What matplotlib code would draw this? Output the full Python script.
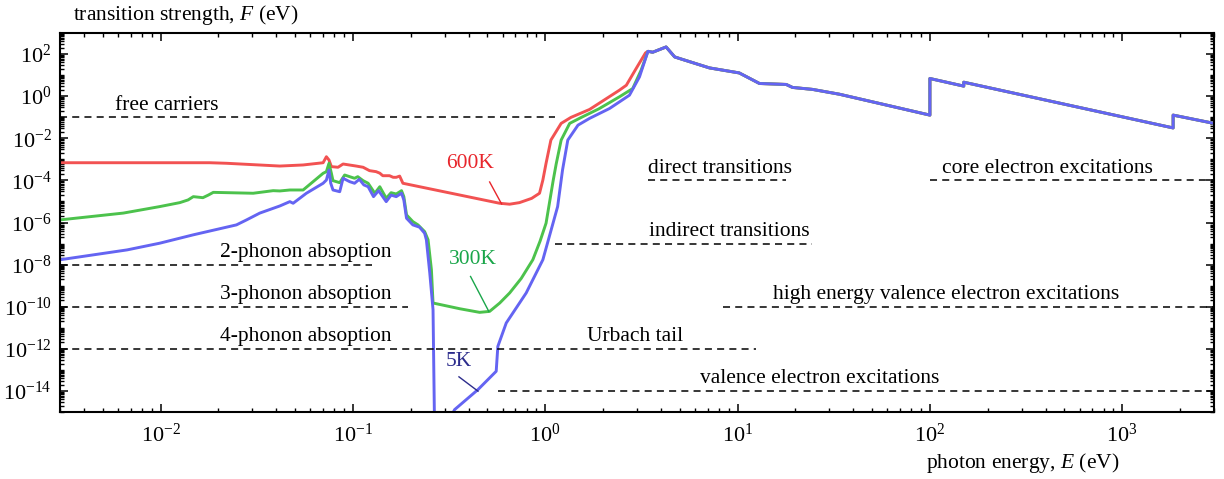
import numpy as np
import matplotlib
matplotlib.use("Agg")
import matplotlib.pyplot as plt
from matplotlib.ticker import FixedLocator, LogFormatterMathtext, NullFormatter

plt.rcParams['font.family'] = 'Liberation Serif'
plt.rcParams['mathtext.fontset'] = 'custom'
plt.rcParams['mathtext.rm'] = 'Liberation Serif'
plt.rcParams['mathtext.it'] = 'Liberation Serif:italic'

# photon energy (eV) / transition strength F (eV), read per temperature
red_E = [0.003, 0.018, 0.022, 0.0417, 0.0551, 0.070, 0.0728, 0.0751, 0.0773, 0.0837,
         0.0889, 0.104, 0.113, 0.122, 0.132, 0.138, 0.143, 0.155, 0.162, 0.168,
         0.175, 0.182, 0.579, 0.653, 0.735, 0.85, 0.934, 0.972, 1.01, 1.07, 1.21,
         1.36, 1.70, 2.43, 2.64, 2.97, 3.32]
red_F = [6.9e-4, 6.9e-4, 6.5e-4, 4.8e-4, 5.4e-4, 6.9e-4, 1.33e-3, 9.3e-4, 4.5e-4, 4.2e-4,
         6.0e-4, 4.8e-4, 4.2e-4, 2.9e-4, 2.6e-4, 2.2e-4, 1.67e-4, 1.67e-4, 1.4e-4, 1.4e-4,
         1.6e-4, 7.3e-5, 8.2e-6, 7.4e-6, 8.8e-6, 1.4e-5, 2.45e-5, 1.04e-4, 6.5e-4, 8.2e-3, 0.051,
         0.098, 0.234, 1.92, 3.3, 20.6, 113]

green_E = [0.003, 0.0064, 0.0099, 0.0126, 0.0139, 0.0148, 0.0166, 0.0177, 0.0188, 0.0303,
           0.0385, 0.0417, 0.047, 0.0551, 0.070, 0.0728, 0.0751, 0.0773, 0.0788, 0.0854,
           0.0906, 0.0962, 0.102, 0.106, 0.113, 0.120, 0.130, 0.138, 0.149, 0.158,
           0.168, 0.179, 0.184, 0.190, 0.205, 0.218, 0.236, 0.246, 0.256, 0.261,
           0.36, 0.456, 0.514, 0.58, 0.653, 0.75, 0.862, 0.94, 1.01, 1.10, 1.14, 1.21, 1.34, 1.54,
           1.90, 2.43, 2.85, 3.15]
green_F = [1.33e-6, 2.8e-6, 5.7e-6, 8.8e-6, 1.18e-5, 1.69e-5, 1.51e-5, 2.0e-5, 2.7e-5, 2.45e-5,
           3.25e-5, 3.15e-5, 3.5e-5, 3.5e-5, 2.17e-4, 2.6e-4, 6.5e-4, 2.17e-4, 9.7e-5, 7.8e-5,
           1.8e-4, 1.5e-4, 1.26e-4, 1.5e-4, 9.7e-5, 7.3e-5, 2.45e-5, 5.0e-5, 1.42e-5, 2.6e-5,
           2.26e-5, 3.25e-5, 1.69e-5, 2.3e-6, 1.1e-6, 7.7e-7, 3.7e-7, 1.5e-7, 5.7e-9, 1.5e-10,
           8.0e-11, 5.4e-11, 6.0e-11, 1.5e-10, 4.5e-10, 2.2e-9, 1.7e-8, 1.3e-7, 9.3e-7, 1.0e-4, 6.0e-4, 8.2e-3, 0.051, 0.098,
           0.25, 0.93, 2.3, 17]

blue_E = [0.003, 0.0067, 0.0099, 0.0148, 0.0248, 0.028, 0.0328, 0.0417, 0.047, 0.0489,
          0.0573, 0.070, 0.0728, 0.0751, 0.0767, 0.0788, 0.0854, 0.0889, 0.0962, 0.102,
          0.108, 0.114, 0.120, 0.128, 0.136, 0.149, 0.158, 0.168, 0.179, 0.184,
          0.190, 0.205, 0.222, 0.236, 0.241, 0.251, 0.261, 0.266, 0.31, 0.338,
          0.447, 0.556, 0.567, 0.627, 0.796, 0.972, 1.16, 1.23, 1.31, 1.48,
          1.70, 2.16, 2.74, 3.09]
blue_F = [1.7e-8, 5.0e-8, 1.04e-7, 2.6e-7, 7.7e-7, 1.33e-6, 2.8e-6, 6.1e-6, 9.8e-6, 8.2e-6,
          2.45e-5, 7.3e-5, 1.04e-4, 3.1e-4, 7.3e-5, 3.5e-5, 2.9e-5, 1.26e-4, 8.7e-5, 7.3e-5,
          1.13e-4, 6.1e-5, 5.0e-5, 1.69e-5, 3.25e-5, 9.8e-6, 2.0e-5, 1.69e-5, 2.45e-5, 1.18e-5,
          1.6e-6, 7.7e-7, 6.0e-7, 3.1e-7, 1.5e-7, 4.0e-9, 7.2e-11, 1e-16, 3e-16, 1.3e-15,
          1.16e-14, 8.6e-14, 1.31e-12, 1.69e-11, 4.5e-10, 1.7e-8, 5.7e-6, 3.1e-4, 8.2e-3, 0.042,
          0.088, 0.26, 1.11, 8.2]

# above the gap all three temperatures coincide
tail_E = [3.42, 3.62, 4.25, 4.71, 5.19, 7.14, 10.2, 13.0, 17.9, 19.3,
          24.5, 33.8, 100, 100, 150, 150, 1839, 1839, 3000]
tail_F = [135, 122, 217, 73, 55, 22, 12.7, 4.0, 3.6, 2.6,
          2.1, 1.24, 0.126, 6.9, 3.0, 4.6, 0.031, 0.126, 0.051]

# absorption regimes: label, level F, E from, E to, E where text starts
regions = [
    ("free carriers", 1e-1, 0.003, 1.13, 0.0058),
    ("2-phonon absoption", 1e-8, 0.003, 0.125, 0.0203),
    ("3-phonon absoption", 1e-10, 0.003, 0.193, 0.0203),
    ("4-phonon absoption", 1e-12, 0.003, 0.27, 0.0203),
    ("Urbach tail", 1e-12, 0.27, 12.5, 1.65),
    ("valence electron excitations", 1e-14, 0.567, 3000, 6.41),
    ("direct transitions", 1e-4, 3.41, 17.9, 3.41),
    ("indirect transitions", 1e-7, 1.13, 24.5, 3.45),
    ("high energy valence electron excitations", 1e-10, 8.45, 3000, 15.3),
    ("core electron excitations", 1e-4, 100, 3000, 116),
]

# temperature tags: text, colour, text position, leader start, leader end
temp_labels = [
    ("600K", "#e8262c", (0.409, 10**-3.175), (0.514, 10**-4.076), (0.593, 10**-5.118)),
    ("300K", "#1aa64a", (0.421, 10**-7.773), (0.409, 10**-8.564), (0.509, 10**-10.223)),
    ("5K", "#2c2c8c", (0.356, 10**-12.59), (0.356, 10**-13.33), (0.447, 10**-14.01)),
]

fig = plt.figure(figsize=(12.24, 4.79), dpi=100)
ax = fig.add_axes([60/1224, 67/479, 1154/1224, 379/479])

lw = 2.1
ax.plot(red_E + tail_E, red_F + tail_F, color="#f25252", lw=lw, solid_joinstyle="round")
ax.plot(green_E + tail_E, green_F + tail_F, color="#4cc24c", lw=lw, solid_joinstyle="round")
ax.plot(blue_E + tail_E, blue_F + tail_F, color="#6464f2", lw=lw, solid_joinstyle="round")

for text, level, e0, e1, et in regions:
    ax.plot([e0, e1], [level, level], color="black", lw=1.1, ls=(0, (4.6, 3.4)))
    ax.annotate(text, (et, level), xytext=(0, 5.5), textcoords="offset points",
                ha="left", va="baseline", fontsize=15.5)

for text, col, pos, p0, p1 in temp_labels:
    ax.text(pos[0], pos[1], text, color=col, fontsize=15.5, ha="center", va="center")
    ax.plot([p0[0], p1[0]], [p0[1], p1[1]], color=col, lw=1.0)

ax.set_xscale("log")
ax.set_yscale("log")
ax.set_xlim(3e-3, 3e3)
ax.set_ylim(1e-15, 1e3)

ax.xaxis.set_major_locator(FixedLocator([10.0**n for n in range(-2, 4)]))
ax.xaxis.set_minor_locator(FixedLocator([k * 10.0**n for n in range(-3, 4) for k in range(2, 10)]))
ax.yaxis.set_major_locator(FixedLocator([10.0**n for n in range(-14, 3, 2)]))
ax.yaxis.set_minor_locator(FixedLocator([k * 10.0**n for n in range(-16, 4) for k in range(1, 10)
                                         if not (k == 1 and n % 2 == 0)]))
ax.xaxis.set_major_formatter(LogFormatterMathtext())
ax.yaxis.set_major_formatter(LogFormatterMathtext())
ax.xaxis.set_minor_formatter(NullFormatter())
ax.yaxis.set_minor_formatter(NullFormatter())

ax.tick_params(which="both", direction="in", top=True, right=True, labelsize=16, pad=6)
ax.tick_params(axis="x", which="major", pad=8)
ax.tick_params(which="major", length=6, width=1.1)
ax.tick_params(which="minor", length=3, width=1.0)
for s in ax.spines.values():
    s.set_linewidth(1.5)

fig.text(73/1224, 1 - 15/479, r"transition strength, $\mathit{F}$ (eV)", fontsize=15.5,
         ha="left", va="center")
fig.text(1119/1224, 1 - 463/479, r"photon energy, $\mathit{E}$ (eV)", fontsize=15.5,
         ha="right", va="center")

fig.savefig("out.png", dpi=100)
